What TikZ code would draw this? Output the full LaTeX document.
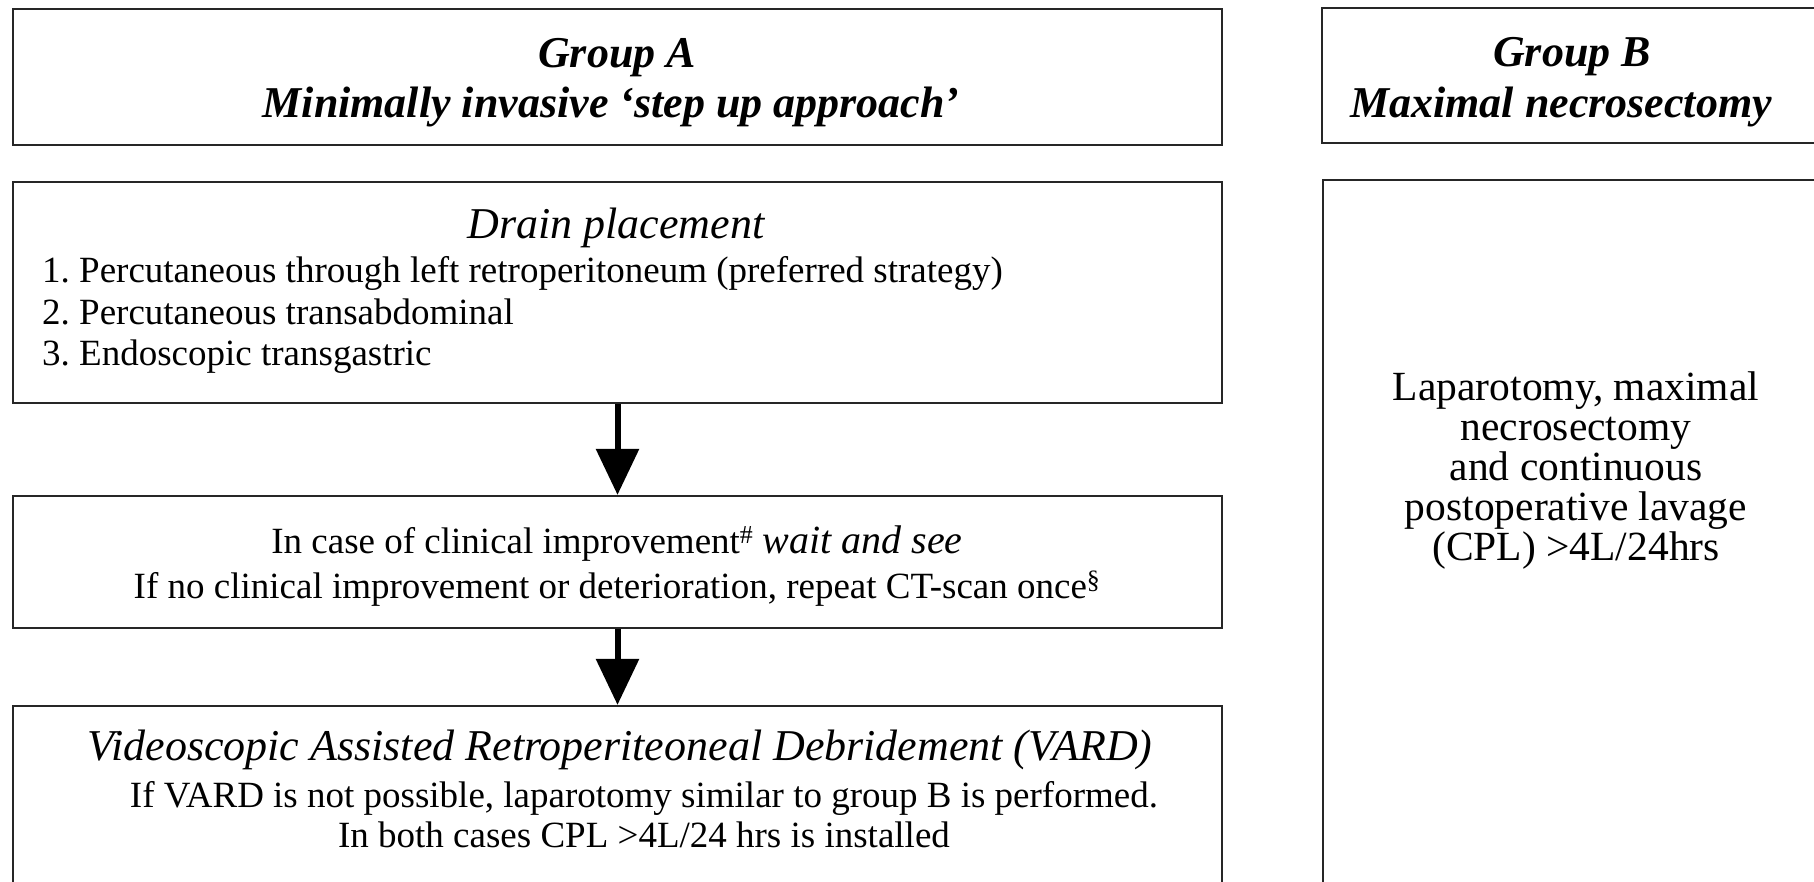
\documentclass[tikz,border=0pt]{standalone}
\usepackage{fontspec}
\setmainfont{Liberation Serif}
\usetikzlibrary{arrows.meta}
\frenchspacing
\tikzset{
  box/.style={draw=black!85, line width=2.2pt, inner sep=0pt},
  hfont/.style={font=\fontsize{44}{50}\selectfont\bfseries\itshape},
  tfont/.style={font=\fontsize{44}{50}\selectfont\itshape},
  bfont/.style={font=\fontsize{37}{42}\selectfont},
  rfont/.style={font=\fontsize{41.5}{40}\selectfont},
  txt/.style={inner sep=0pt, anchor=base},
  ltxt/.style={inner sep=0pt, anchor=base west},
  bigarrow/.style={line width=6pt, -{Triangle[length=46pt,width=42pt]}},
}
\begin{document}
\begin{tikzpicture}[x=1pt,y=-1pt]
\useasboundingbox (0,0) rectangle (1814,881);
\clip (0,0) rectangle (1814,881);
\fill[white] (0,0) rectangle (1814,881);
% boxes
\node[box, minimum width=1209pt, minimum height=136pt] (hA) at (617.5,77) {};
\node[box, minimum width=508pt, minimum height=135pt] (hB) at (1576,75.5) {};
\node[box, minimum width=1209pt, minimum height=221pt] (drain) at (617.5,292.5) {};
\node[box, minimum width=1209pt, minimum height=132pt] (wait) at (617.5,562) {};
\node[box, minimum width=1209pt, minimum height=194pt] (vard) at (617.5,803) {};
\node[box, minimum width=507pt, minimum height=720pt] (bodyB) at (1576.5,540) {};
% arrows
\draw[bigarrow] (drain.south) -- (wait.north);
\draw[bigarrow] (wait.south) -- (vard.north);
% header texts
\node[txt, hfont] (tA1) at (617,67) {Group A};
\node[txt, hfont] (tA2) at (611,117) {Minimally invasive ‘step up approach’};
\node[txt, hfont] (tB1) at (1572,66) {Group B};
\node[txt, hfont] (tB2) at (1561,117) {Maximal necrosectomy};
% drain
\node[txt, tfont] (dT) at (616,238) {Drain placement};
\node[ltxt, bfont] (d1) at (42,282) {1. Percutaneous through left retroperitoneum (preferred strategy)};
\node[ltxt, bfont] (d2) at (42,324) {2. Percutaneous transabdominal};
\node[ltxt, bfont] (d3) at (42,365) {3. Endoscopic transgastric};
% wait
\node[txt, bfont] (w1) at (617,553) {In case of clinical improvement\textsuperscript{\#} \textit{\fontsize{40}{42}\selectfont wait and see}};
\node[txt, bfont] (w2) at (617,598) {If no clinical improvement or deterioration, repeat CT-scan once\textsuperscript{§}};
% vard
\node[txt, tfont] (v1) at (620,760) {Videoscopic Assisted Retroperiteoneal Debridement (VARD)};
\node[txt, bfont] (v2) at (644,807) {If VARD is not possible, laparotomy similar to group B is performed.};
\node[txt, bfont] (v3) at (644,847) {In both cases CPL >4L/24 hrs is installed};
% group B body
\node[rfont, align=center, inner sep=0pt] (bt) at (1576,471) {Laparotomy, maximal\\ necrosectomy\\ and continuous\\ postoperative lavage\\ (CPL) >4L/24hrs};
\end{tikzpicture}
\end{document}
